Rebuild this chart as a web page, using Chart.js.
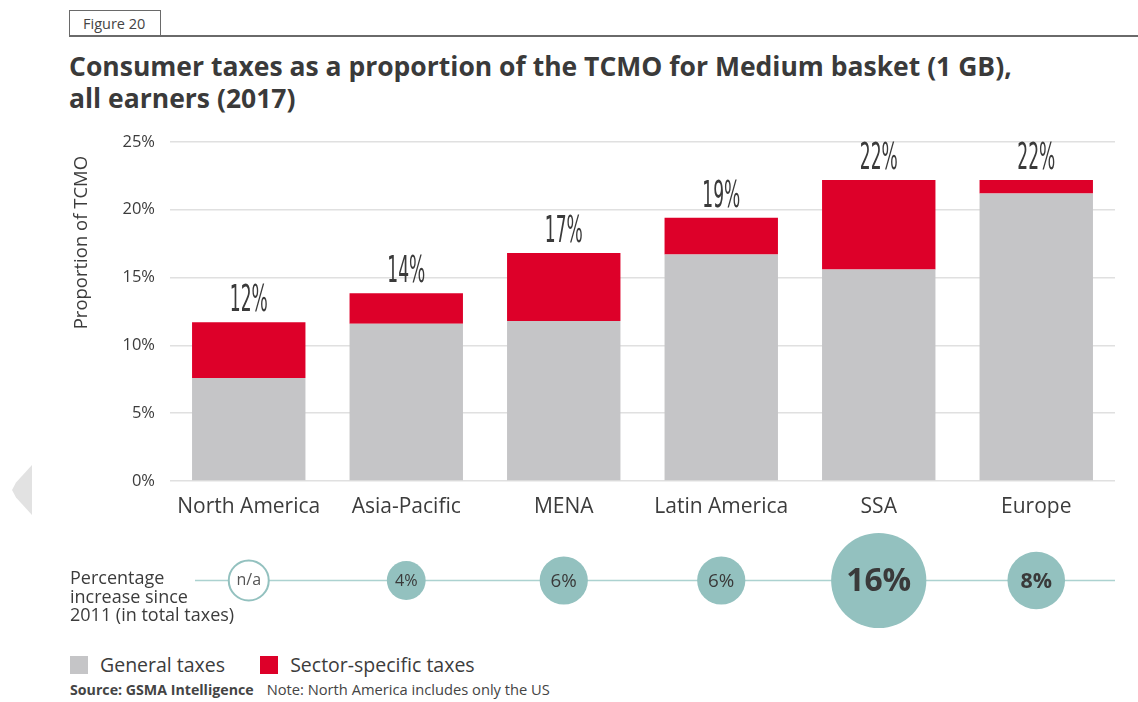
<!DOCTYPE html>
<html>
<head>
<meta charset="utf-8">
<title>Consumer taxes as a proportion of the TCMO</title>
<script src="https://cdn.jsdelivr.net/npm/chart.js@4.4.1/dist/chart.umd.min.js"></script>
<style>
  body { margin: 0; background: #fff; font-family: "Open Sans", Lato, sans-serif; color: #3c3c3c; }
  #page { position: relative; width: 1138px; height: 702px; overflow: hidden; }
  .fig-box { position: absolute; left: 69px; top: 10px; width: 90px; height: 25px; border: 1px solid #6a6a6a; border-bottom: none;
             font-size: 14.5px; line-height: 26px; text-indent: 13px; color: #444; }
  .fig-rule { position: absolute; left: 69px; right: 0; top: 35px; height: 0; border-top: 2px solid #6a6a6a; }
  h1 { position: absolute; left: 69px; top: 50px; margin: 0; font-size: 26.5px; line-height: 32px; font-weight: 700; color: #3a3a3a; }
  .arrow { position: absolute; left: 12px; top: 465px; width: 20px; height: 50px; background: #e2e2e2;
           clip-path: polygon(100% 0, 100% 100%, 20% 65%, 0 50%, 20% 35%); }
  #barWrap { position: absolute; left: 0; top: 117px; width: 1138px; height: 404px; }
  #bubbleWrap { position: absolute; left: 0; top: 521px; width: 1138px; height: 119px; }
  .row-label { position: absolute; left: 70px; top: 568px; font-size: 18px; line-height: 18.5px; color: #3c3c3c; }
  .legend { position: absolute; left: 70px; top: 651px; font-size: 19.5px; line-height: 24px; }
  .legend span { display: inline-block; vertical-align: middle; }
  .legend .sw { width: 18px; height: 18px; margin-right: 12px; }
  .source { position: absolute; left: 70px; top: 679px; font-size: 14.7px; color: #444; }
  .source b { font-size: 14.2px; margin-right: 13px; }
</style>
</head>
<body>
<div id="page">
  <div class="fig-box">Figure 20</div>
  <div class="fig-rule"></div>
  <h1>Consumer taxes as a proportion of the TCMO for Medium basket (1 GB),<br>all earners (2017)</h1>
  <div class="arrow"></div>
  <div id="barWrap"><canvas id="graficoImpostos"></canvas></div>
  <div id="bubbleWrap"><canvas id="graficoAumento"></canvas></div>
  <div class="row-label">Percentage<br>increase since<br>2011 (in total taxes)</div>
  <div class="legend">
    <span class="sw" style="background:#c5c5c7"></span><span style="margin-right:30px">General taxes</span>
    <span class="sw" style="background:#dd0029"></span><span>Sector-specific taxes</span>
  </div>
  <div class="source"><b>Source: GSMA Intelligence</b>Note: North America includes only the US</div>
</div>

<script>
// regioes e valores (% do TCMO)
const regioes = ['North America', 'Asia-Pacific', 'MENA', 'Latin America', 'SSA', 'Europe'];
const impostosGerais = [7.6, 11.6, 11.8, 16.7, 15.6, 21.2];
const impostosSector = [4.1, 2.25, 5.0, 2.7, 6.6, 1.0];
// aumento percentual desde 2011 (null = n/a)
const aumento2011 = [null, 4, 6, 6, 16, 8];
const ticksY = [0, 5, 10, 15, 20, 25];

const CINZA = '#c5c5c7';
const VERMELHO = '#dd0029';
const TEAL = '#93c1bf';
const TEXTO = '#3c3c3c';
const FONTE = '"Open Sans", Lato, sans-serif';

// totais escritos por cima das barras, com letra estreita
const totaisPlugin = {
  id: 'totais',
  afterDatasetsDraw(chart) {
    const ctx = chart.ctx;
    const meta = chart.getDatasetMeta(1);
    ctx.save();
    ctx.fillStyle = '#3a3a3a';
    ctx.textAlign = 'center';
    ctx.textBaseline = 'alphabetic';
    ctx.font = '38px "Liberation Sans Narrow", "DejaVu Sans Condensed", sans-serif';
    meta.data.forEach((bar, i) => {
      const total = impostosGerais[i] + impostosSector[i];
      const txt = Math.round(total) + '%';
      ctx.save();
      ctx.translate(bar.x, bar.y - 11);
      ctx.scale(0.5, 1);
      ctx.fillText(txt, 0, 0);
      ctx.restore();
    });
    ctx.restore();
  }
};

// titulo do eixo y, encostado ao topo
const tituloYPlugin = {
  id: 'tituloY',
  afterDraw(chart) {
    const { ctx, chartArea } = chart;
    ctx.save();
    ctx.translate(82, chartArea.top + 14);
    ctx.rotate(-Math.PI / 2);
    ctx.textAlign = 'right';
    ctx.textBaseline = 'middle';
    ctx.fillStyle = TEXTO;
    ctx.font = '18.5px ' + FONTE;
    ctx.fillText('Proportion of TCMO', 0, 0);
    ctx.restore();
  }
};

new Chart(document.getElementById('graficoImpostos'), {
  type: 'bar',
  data: {
    labels: regioes,
    datasets: [
      { label: 'General taxes', data: impostosGerais, backgroundColor: CINZA },
      { label: 'Sector-specific taxes', data: impostosSector, backgroundColor: VERMELHO }
    ]
  },
  options: {
    responsive: true,
    maintainAspectRatio: false,
    animation: false,
    barPercentage: 0.72,
    categoryPercentage: 1,
    layout: { padding: { left: 70, right: 23, top: 16, bottom: 0 } },
    plugins: { legend: { display: false }, tooltip: { enabled: false } },
    scales: {
      x: {
        stacked: true,
        grid: { display: false },
        border: { display: false },
        ticks: { color: TEXTO, font: { family: FONTE, size: 21 }, padding: 5 },
        afterFit(s) { s.height = 40; }
      },
      y: {
        stacked: true,
        min: 0,
        max: 25,
        afterBuildTicks(s) { s.ticks = ticksY.map(v => ({ value: v })); },
        grid: { color: '#e0e0e0', lineWidth: 1.6, drawTicks: false },
        border: { display: false },
        ticks: { color: TEXTO, font: { family: FONTE, size: 16.5 }, padding: 15, callback: v => v + '%' },
        afterFit(s) { s.width = 100; }
      }
    }
  },
  plugins: [totaisPlugin, tituloYPlugin]
});

// raio do circulo a partir do aumento
function raio(v) {
  return v === null ? 20 : 10 + 2.35 * v;
}

const linhaPlugin = {
  id: 'linhaTeal',
  beforeDatasetsDraw(chart) {
    const { ctx, chartArea, scales } = chart;
    const y = scales.y.getPixelForValue(0);
    ctx.save();
    ctx.strokeStyle = '#acd2d0';
    ctx.lineWidth = 1.6;
    ctx.beginPath();
    ctx.moveTo(chartArea.left + 25, y);
    ctx.lineTo(chartArea.right, y);
    ctx.stroke();
    ctx.restore();
  },
  afterDatasetsDraw(chart) {
    const ctx = chart.ctx;
    const meta = chart.getDatasetMeta(0);
    ctx.save();
    ctx.textAlign = 'center';
    ctx.textBaseline = 'middle';
    meta.data.forEach((pt, i) => {
      const v = aumento2011[i];
      if (v === null) {
        ctx.fillStyle = '#555';
        ctx.font = '16px ' + FONTE;
        ctx.fillText('n/a', pt.x, pt.y);
      } else {
        ctx.fillStyle = '#3a3a3a';
        ctx.font = (v >= 8 ? 'bold ' : '') + (11 + 1.3 * v) + 'px ' + FONTE;
        ctx.fillText(v + '%', pt.x, pt.y + 1);
      }
    });
    ctx.restore();
  }
};

new Chart(document.getElementById('graficoAumento'), {
  type: 'bubble',
  data: {
    labels: regioes,
    datasets: [{
      data: regioes.map((r, i) => ({ x: r, y: 0, r: raio(aumento2011[i]) })),
      backgroundColor: aumento2011.map(v => v === null ? '#ffffff' : TEAL),
      borderColor: TEAL,
      borderWidth: aumento2011.map(v => v === null ? 2 : 0),
      clip: false
    }]
  },
  options: {
    responsive: true,
    maintainAspectRatio: false,
    animation: false,
    layout: { autoPadding: false, padding: { left: 170, right: 23, top: 0, bottom: 0 } },
    plugins: { legend: { display: false }, tooltip: { enabled: false } },
    scales: {
      x: { type: 'category', labels: regioes, offset: true, display: false },
      y: { min: -1, max: 1, display: false }
    }
  },
  plugins: [linhaPlugin]
});
</script>
</body>
</html>
